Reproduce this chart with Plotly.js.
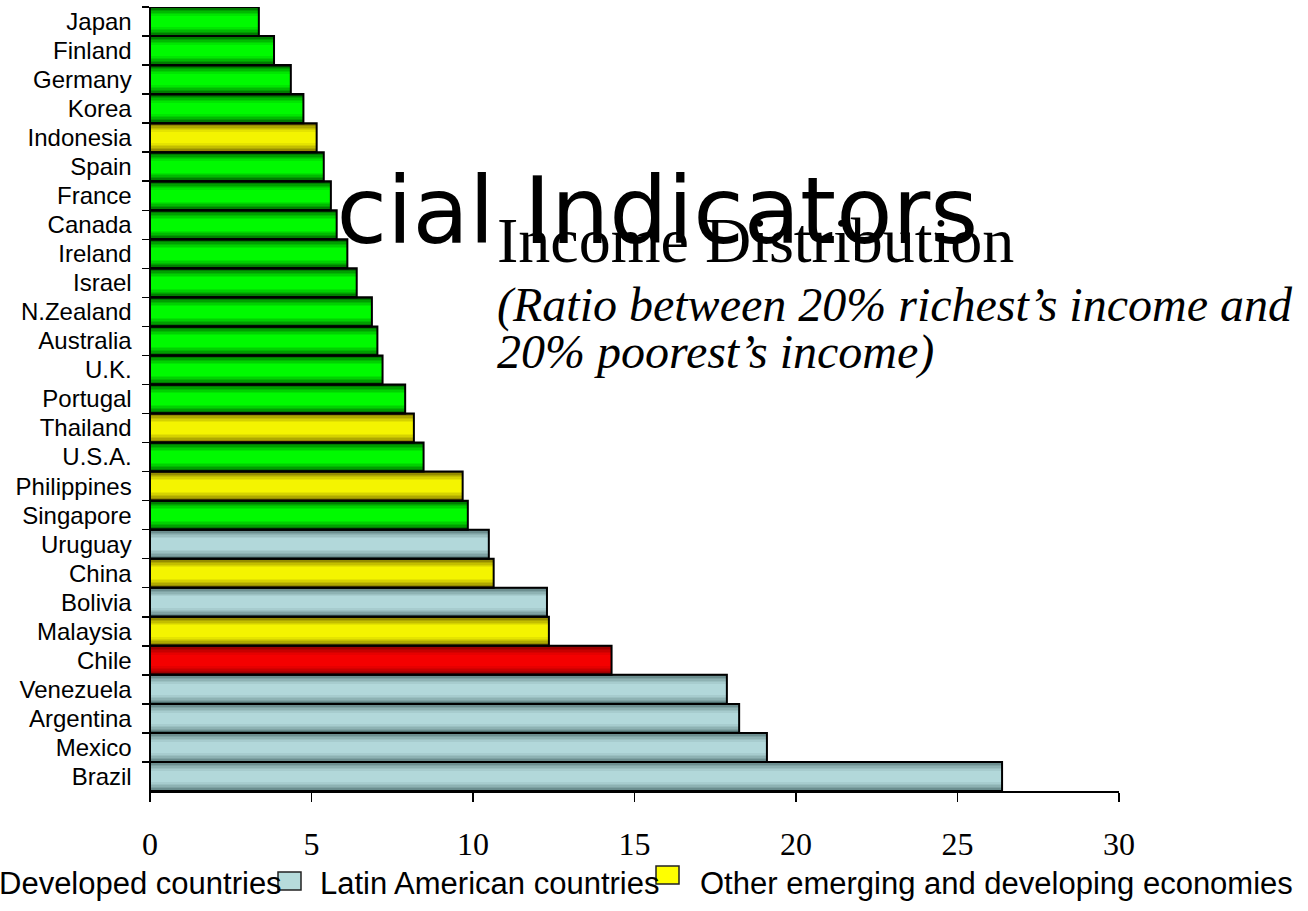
<!DOCTYPE html>
<html>
<head>
<meta charset="utf-8">
<script src="https://cdn.plot.ly/plotly-3.0.1.min.js"></script>
<style>
  html, body { margin: 0; padding: 0; background: #ffffff; overflow: hidden; }
  #chart { width: 1308px; height: 911px; }
</style>
</head>
<body>
<div id="chart"></div>
<script>
// Ratio between the income of the richest 20% and the poorest 20%
const countries = [
  'Japan', 'Finland', 'Germany', 'Korea', 'Indonesia', 'Spain', 'France',
  'Canada', 'Ireland', 'Israel', 'N.Zealand', 'Australia', 'U.K.', 'Portugal',
  'Thailand', 'U.S.A.', 'Philippines', 'Singapore', 'Uruguay', 'China',
  'Bolivia', 'Malaysia', 'Chile', 'Venezuela', 'Argentina', 'Mexico', 'Brazil'
];
const ratios = [
  3.37, 3.84, 4.36, 4.75, 5.16, 5.38, 5.60,
  5.78, 6.11, 6.40, 6.87, 7.04, 7.20, 7.90,
  8.17, 8.47, 9.68, 9.84, 10.49, 10.64,
  12.29, 12.35, 14.29, 17.86, 18.24, 19.10, 26.38
];
const regions = [
  'dev', 'dev', 'dev', 'dev', 'other', 'dev', 'dev',
  'dev', 'dev', 'dev', 'dev', 'dev', 'dev', 'dev',
  'other', 'dev', 'other', 'dev', 'latam', 'other',
  'latam', 'other', 'chile', 'latam', 'latam', 'latam', 'latam'
];
const legendRegions = ['dev', 'latam', 'other'];
const legendLabels = ['Developed countries', 'Latin American countries', 'Other emerging and developing economies'];
const xTickValues = [0, 5, 10, 15, 20, 25, 30];

// Cylinder-like shading: darker at the bar edges, bright in the middle
const shade = {
  dev:   { edge: [0, 60, 0],     mid: [0, 250, 0] },
  latam: { edge: [72, 104, 104], mid: [178, 216, 218] },
  other: { edge: [100, 86, 0],   mid: [244, 244, 0] },
  chile: { edge: [110, 0, 0],    mid: [244, 0, 0] }
};
const swatch = { dev: '#00ff00', latam: '#b6dcdc', other: '#ffff00' };
const layerWidths = [1.0, 0.9, 0.8, 0.7, 0.6, 0.5, 0.4];

function mix(a, b, t) {
  return 'rgb(' + a.map((v, i) => Math.round(v + (b[i] - v) * t)).join(',') + ')';
}

const traces = layerWidths.map((w, k) => {
  const t = Math.pow(k / (layerWidths.length - 1), 0.6);
  return {
    type: 'bar', orientation: 'h',
    x: ratios, y: countries, width: w,
    marker: { color: regions.map(r => mix(shade[r].edge, shade[r].mid, t)), line: { width: 0 } },
    hoverinfo: 'skip', showlegend: false
  };
});
// black outline on top of the shaded layers
traces.push({
  type: 'bar', orientation: 'h',
  x: ratios, y: countries, width: 1,
  marker: { color: 'rgba(0,0,0,0)', line: { color: '#000000', width: 2 } },
  hovertemplate: '%{y}: %{x}<extra></extra>', showlegend: false
});

// plot area in pixels: x 150..1119, y 7..791
const L = 150, R = 1119, T = 7, B = 791;
const px = v => (v - L) / (R - L);
const py = v => (B - v) / (B - T);

const shapes = [{
  type: 'rect', xref: 'paper', yref: 'paper', layer: 'below',
  x0: px(220), x1: px(980), y0: py(249), y1: py(159),
  line: { width: 0 }, fillcolor: 'rgba(0,0,0,0)',
  label: {
    text: 'Social Indicators', textposition: 'middle center',
    font: { family: 'DejaVu Sans', size: 92, color: '#000000' }
  }
}];

// legend swatches and labels along the bottom
const legendBoxes = [[-44, -21, 872, 890], [278, 301, 872, 890], [656, 679, 866, 884]];
legendRegions.forEach((r, i) => {
  const b = legendBoxes[i];
  shapes.push({
    type: 'rect', xref: 'paper', yref: 'paper',
    x0: px(b[0]), x1: px(b[1]), y0: py(b[3]), y1: py(b[2]),
    fillcolor: swatch[r], line: { color: '#222222', width: 1.5 }
  });
});

const legendFont = { family: 'Liberation Sans, Arial, sans-serif', size: 31, color: '#000000' };
const annotations = [
  { text: legendLabels[0], x: px(284), xanchor: 'right' },
  { text: legendLabels[1], x: px(318), xanchor: 'left' },
  { text: legendLabels[2], x: px(698), xanchor: 'left' }
].map(a => Object.assign({
  xref: 'paper', yref: 'paper', y: py(883), yanchor: 'middle',
  showarrow: false, font: legendFont
}, a));

annotations.push({
  xref: 'paper', yref: 'paper', x: px(495), y: py(240), xanchor: 'left', yanchor: 'middle',
  showarrow: false, text: 'Income Distribution',
  font: { family: 'Liberation Serif, Times New Roman, serif', size: 64, color: '#000000' }
});
annotations.push({
  xref: 'paper', yref: 'paper', x: px(495), y: py(305), xanchor: 'left', yanchor: 'middle',
  showarrow: false, text: '<i>(Ratio between 20% richest’s income and</i>',
  font: { family: 'Liberation Serif, Times New Roman, serif', size: 48, color: '#000000' }
});
annotations.push({
  xref: 'paper', yref: 'paper', x: px(495), y: py(352), xanchor: 'left', yanchor: 'middle',
  showarrow: false, text: '<i>20% poorest’s income)</i>',
  font: { family: 'Liberation Serif, Times New Roman, serif', size: 48, color: '#000000' }
});

const layout = {
  width: 1308, height: 911,
  margin: { l: L, r: 1308 - R, t: T, b: 911 - B, pad: 0 },
  paper_bgcolor: '#ffffff', plot_bgcolor: 'rgba(0,0,0,0)',
  barmode: 'overlay', bargap: 0,
  showlegend: false,
  xaxis: {
    range: [0, 30], tickvals: xTickValues, ticktext: xTickValues.map(String),
    showgrid: false, zeroline: false,
    showline: true, linecolor: '#000000', linewidth: 1.5,
    ticks: 'outside', ticklen: 9, tickwidth: 1.5, tickcolor: '#000000',
    ticklabelstandoff: 15,
    tickfont: { family: 'Liberation Serif, Times New Roman, serif', size: 32, color: '#000000' },
    fixedrange: true
  },
  yaxis: {
    type: 'category', categoryorder: 'array', categoryarray: countries,
    autorange: 'reversed',
    showgrid: false, zeroline: false,
    showline: true, linecolor: '#000000', linewidth: 1.5,
    ticks: 'outside', tickson: 'boundaries', ticklen: 7, tickwidth: 1.5, tickcolor: '#000000',
    ticklabelstandoff: 12,
    tickfont: { family: 'Liberation Sans, Arial, sans-serif', size: 24, color: '#000000' },
    fixedrange: true
  },
  shapes: shapes,
  annotations: annotations
};

Plotly.newPlot('chart', traces, layout, { displayModeBar: false, staticPlot: true });
</script>
</body>
</html>
